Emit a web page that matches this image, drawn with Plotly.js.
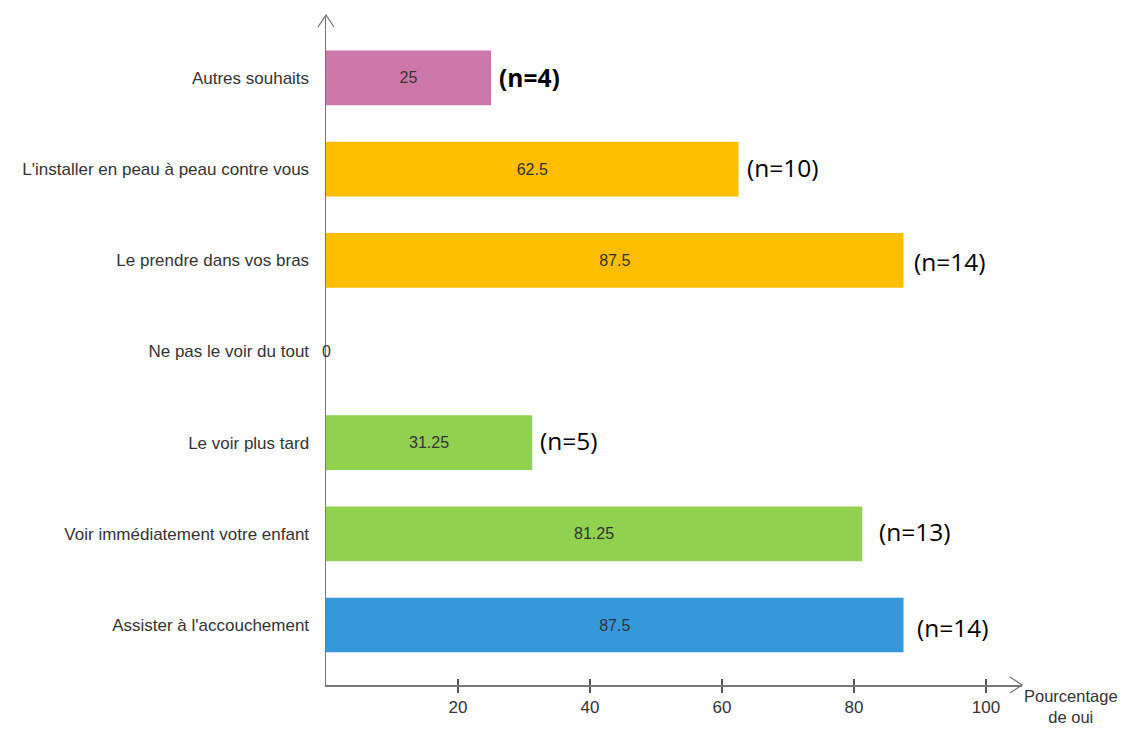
<!DOCTYPE html>
<html>
<head>
<meta charset="utf-8">
<script src="https://cdn.plot.ly/plotly-3.0.1.min.js"></script>
<style>html,body{margin:0;padding:0;background:#fff;}#chart{width:1131px;height:729px;}</style>
</head>
<body>
<div id="chart"></div>
<script>
// Data (top to bottom as shown)
const categories = ["Autres souhaits", "L'installer en peau à peau contre vous", "Le prendre dans vos bras", "Ne pas le voir du tout", "Le voir plus tard", "Voir immédiatement votre enfant", "Assister à l'accouchement"];
const values = [25, 62.5, 87.5, 0, 31.25, 81.25, 87.5];
const valueLabels = ["25", "62.5", "87.5", "0", "31.25", "81.25", "87.5"];
const nLabels = ["(n=4)", "(n=10)", "(n=14)", "", "(n=5)", "(n=13)", "(n=14)"];
const xTicks = [20, 40, 60, 80, 100];

// Styles
const barColors = ["#CC77AA", "#FDBE00", "#FDBE00", "#FDBE00", "#92D050", "#92D050", "#3498DB"];
const nShift = [6, 6, 8, 0, 6, 15, 11];
const nYShift = [0, 2, -1, 0, 2, 2, -2];
const nBold = [true, false, false, false, false, false, false];
const labelFont = 'Liberation Sans, Arial, sans-serif';

const trace = {
  type: 'bar', orientation: 'h',
  y: categories, x: values,
  width: 0.6,
  marker: {color: barColors, line: {width: 0}},
  text: values.map((v, i) => v > 0 ? valueLabels[i] : ''),
  textposition: 'inside', insidetextanchor: 'middle',
  textfont: {family: labelFont, size: 16, color: '#333'},
  hoverinfo: 'none', cliponaxis: false
};
const trace2 = {type: 'scatter', x: [0], y: [categories[0]], xaxis: 'x2', mode: 'none', showlegend: false, hoverinfo: 'none'};

const annotations = [];
values.forEach((v, i) => {
  if (nLabels[i]) {
    annotations.push({
      x: v, y: categories[i], xref: 'x', yref: 'y', text: nBold[i] ? '<b>' + nLabels[i] + '</b>' : nLabels[i],
      showarrow: false, xanchor: 'left', yanchor: 'middle', xshift: nShift[i], yshift: nYShift[i],
      font: {family: 'Open Sans, Noto Sans, sans-serif', size: 24.5, color: '#000'}
    });
  }
  if (v === 0) {
    annotations.push({
      x: v, y: categories[i], xref: 'x', yref: 'y', text: valueLabels[i],
      showarrow: false, xanchor: 'center', yanchor: 'middle',
      font: {family: labelFont, size: 16, color: '#333'}
    });
  }
});
annotations.push({
  x: 1, y: 0, xref: 'paper', yref: 'paper', text: 'Pourcentage<br>de oui',
  showarrow: false, xanchor: 'left', yanchor: 'top', xshift: 0, yshift: 0,
  font: {family: labelFont, size: 16.5, color: '#333'}, align: 'center'
});

const layout = {
  width: 1131, height: 729,
  margin: {l: 326, r: 109, t: 15, b: 44},
  paper_bgcolor: '#fff', plot_bgcolor: '#fff',
  showlegend: false,
  xaxis: {
    range: [0, 105.45], tickvals: xTicks, ticktext: xTicks.map(String),
    ticks: 'outside', ticklen: 6, tickwidth: 1.2, tickcolor: '#555',
    showline: true, linecolor: '#777', linewidth: 1.5,
    showgrid: false, zeroline: false,
    tickfont: {family: labelFont, size: 17, color: '#333'}
  },
  xaxis2: {
    overlaying: 'x', range: [0, 105.45], tickvals: xTicks, showticklabels: false,
    ticks: 'inside', ticklen: 6, tickwidth: 1.2, tickcolor: '#555',
    showgrid: false, zeroline: false, showline: false, side: 'bottom', anchor: 'y'
  },
  yaxis: {
    type: 'category', categoryorder: 'array', categoryarray: categories,
    range: [6.658, -0.69],
    showline: true, linecolor: '#777', linewidth: 1.5,
    showgrid: false, zeroline: false, ticks: '', ticklabelstandoff: 12,
    tickfont: {family: labelFont, size: 17, color: '#333'}
  },
  annotations: annotations,
  shapes: [
    {type: 'path', xref: 'paper', xsizemode: 'pixel', xanchor: 0, yref: 'paper', ysizemode: 'pixel', yanchor: 1,
     path: 'M-8,-12 L0,0 L8,-12', line: {color: '#777', width: 1.3}},
    {type: 'path', xref: 'paper', xsizemode: 'pixel', xanchor: 1, yref: 'paper', ysizemode: 'pixel', yanchor: 0,
     path: 'M-12,8 L0,0 L-12,-8', line: {color: '#777', width: 1.3}}
  ]
};

Plotly.newPlot('chart', [trace, trace2], layout, {staticPlot: true, displayModeBar: false});
</script>
</body>
</html>
